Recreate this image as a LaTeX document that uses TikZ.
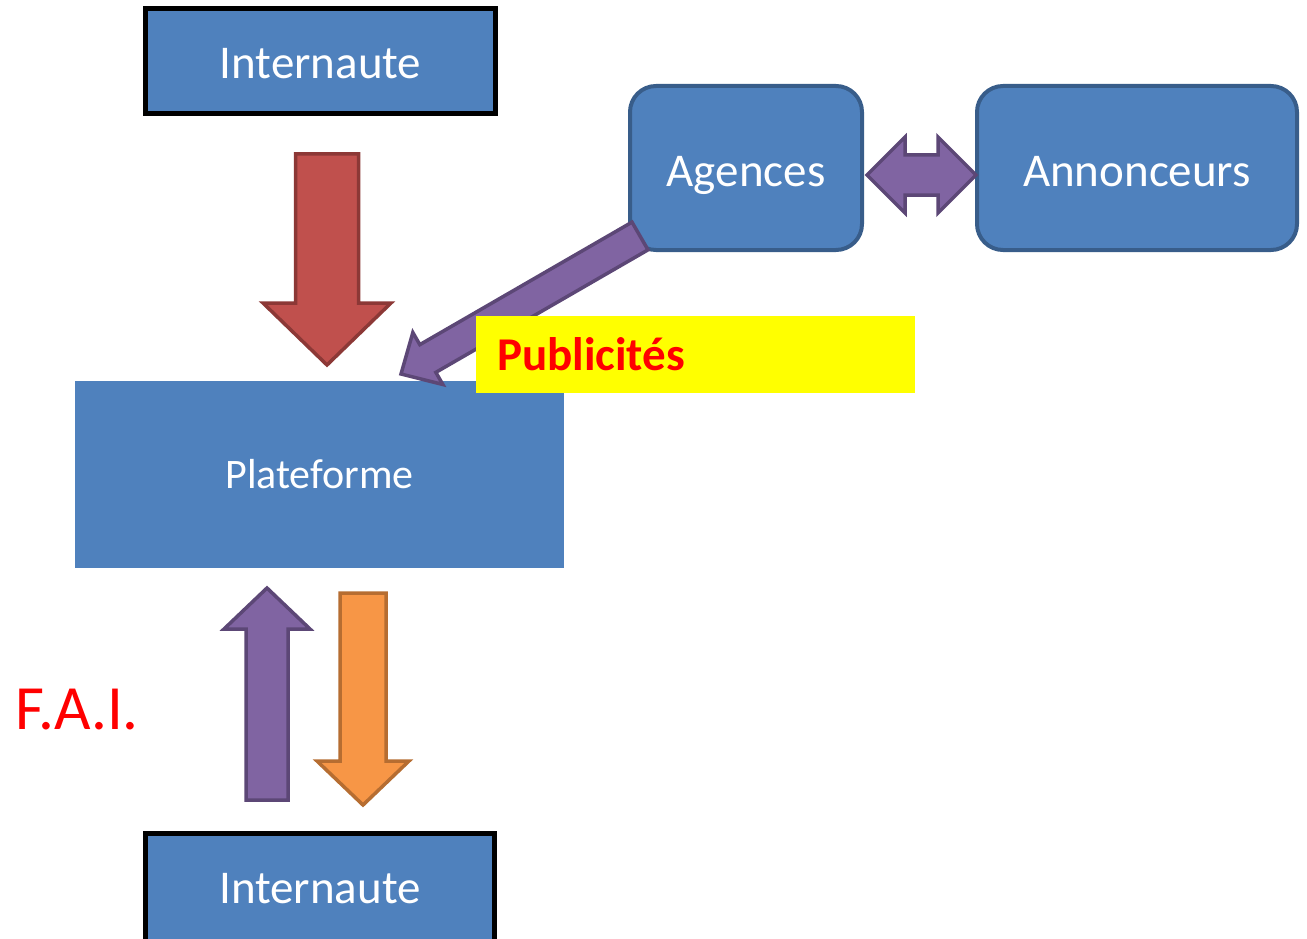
\documentclass[tikz,border=0pt]{standalone}
\usepackage{fontspec}
\setmainfont{Carlito}
\usetikzlibrary{calc}
\definecolor{boxblue}{HTML}{4F81BD}
\definecolor{boxborder}{HTML}{385D8A}
\definecolor{purplefill}{HTML}{8064A2}
\definecolor{purpleline}{HTML}{5C4776}
\definecolor{redfill}{HTML}{C0504D}
\definecolor{redline}{HTML}{8C3836}
\definecolor{orangefill}{HTML}{F79646}
\definecolor{orangeline}{HTML}{B66D31}
\definecolor{pubyellow}{HTML}{FFFF00}
% #1 style, #2 start, #3 tip, #4 half shaft width, #5 half head width, #6 head length
\newcommand\blockarrow[6]{%
  \coordinate (bah) at ($(#3)!#6!(#2)$);
  \draw[#1] ($(#2)!#4!90:(#3)$) -- ($(bah)!#4!-90:(#2)$) -- ($(bah)!#5!-90:(#2)$)
    -- (#3) -- ($(bah)!#5!90:(#2)$) -- ($(bah)!#4!90:(#2)$) -- ($(#2)!#4!-90:(#3)$) -- cycle;}
% double-headed: #1 style, #2 tip one, #3 tip two, #4 half shaft, #5 half head, #6 head length
\newcommand\doublearrow[6]{%
  \coordinate (dah) at ($(#2)!#6!(#3)$);
  \coordinate (dak) at ($(#3)!#6!(#2)$);
  \draw[#1] (#2) -- ($(dah)!#5!90:(#3)$) -- ($(dah)!#4!90:(#3)$) -- ($(dak)!#4!-90:(#2)$)
    -- ($(dak)!#5!-90:(#2)$) -- (#3) -- ($(dak)!#5!90:(#2)$) -- ($(dak)!#4!90:(#2)$)
    -- ($(dah)!#4!-90:(#3)$) -- ($(dah)!#5!-90:(#3)$) -- cycle;}
\tikzset{
  bigtext/.style={font=\fontsize{47}{56}\selectfont, text height=36pt, text depth=0pt},
  userbox/.style={draw=black, line width=5pt, fill=boxblue, text=white, bigtext,
    inner sep=0pt, minimum width=350pt, minimum height=105pt},
  roundbox/.style={draw=boxborder, line width=4pt, fill=boxblue, text=white, rounded corners=26pt,
    bigtext, inner sep=0pt, minimum height=164pt},
  platbox/.style={fill=boxblue, text=white, font=\fontsize{42}{50}\selectfont, inner sep=0pt,
    minimum width=489pt, minimum height=187pt},
  pubbox/.style={fill=pubyellow, text=red, font=\bfseries\fontsize{47}{56}\selectfont, inner xsep=21pt,
    inner ysep=0pt, text width=397pt, align=left, minimum height=77pt},
  faitext/.style={text=red, font=\fontsize{63}{72}\selectfont, inner sep=0pt},
  redarrow/.style={fill=redfill, draw=redline, line width=3.5pt},
  purplearrow/.style={fill=purplefill, draw=purpleline, line width=3.5pt},
  orangearrow/.style={fill=orangefill, draw=orangeline, line width=3.5pt},
}
\begin{document}
\begin{tikzpicture}[x=1pt, y=-1pt]
\useasboundingbox (0,0) rectangle (1307,939);
\clip (0,0) rectangle (1307,939);
\node[userbox] (int1) at (320.5,61) {Internaute};
\node[userbox, minimum width=349pt, minimum height=120pt] (int2) at (320,893.5) {};
\node[bigtext, text=white, inner sep=0pt] (int2t) at (320,885) {Internaute};
\node[platbox] (plat) at (319.5,474.5) {Plateforme};
\node[roundbox, minimum width=232pt] (ag) at (746,168) {Agences};
\node[roundbox, minimum width=320pt] (an) at (1137,168) {Annonceurs};
\node[faitext] (fai) at (77,710) {F.A.I.};
% arrows
\coordinate (redA) at (327,154);
\coordinate (redB) at (327,365);
\blockarrow{redarrow}{redA}{redB}{31.5pt}{64pt}{62pt}
\coordinate (upA) at (267,800);
\coordinate (upB) at (267,588);
\blockarrow{purplearrow}{upA}{upB}{21pt}{43pt}{41pt}
\coordinate (dnA) at (363,593);
\coordinate (dnB) at (363,805);
\blockarrow{orangearrow}{dnA}{dnB}{23pt}{46pt}{44pt}
\coordinate (diagA) at (640,236);
\coordinate (diagB) at (401,374);
\blockarrow{purplearrow}{diagA}{diagB}{16pt}{30pt}{31pt}
\coordinate (dblA) at ($(ag.east)+(3,7)$);
\coordinate (dblB) at ($(an.west)+(1,7)$);
\doublearrow{purplearrow}{dblA}{dblB}{20pt}{38pt}{38pt}
\node[pubbox] (pub) at (695.5,354.5) {Publicités};
\end{tikzpicture}
\end{document}
